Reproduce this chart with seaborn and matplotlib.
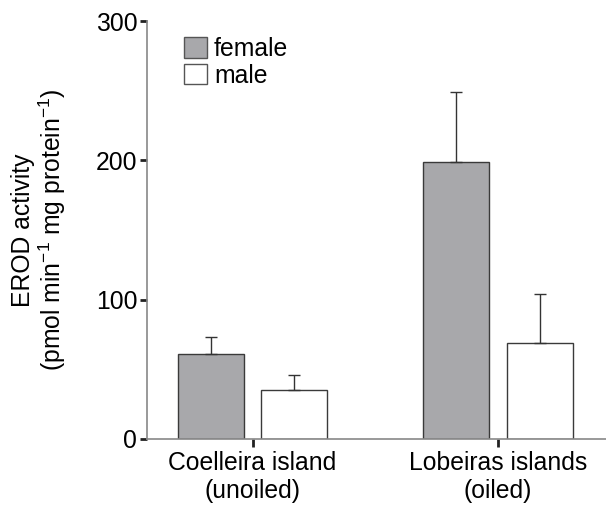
import numpy as np
import pandas as pd
from matplotlib import pyplot as plt
import seaborn as sns

# values
sites = ["Coelleira island\n(unoiled)", "Lobeiras islands\n(oiled)"]
sexes = ["female", "male"]
female_mean = [61, 199]
male_mean = [35, 69]
female_err = [12, 50]
male_err = [11, 35]

df = pd.DataFrame({
    "site": sites * 2,
    "sex": ["female"] * 2 + ["male"] * 2,
    "erod": female_mean + male_mean,
    "err": female_err + male_err,
})

sns.set_style("white")
plt.rcParams["font.family"] = ["Liberation Sans", "DejaVu Sans"]
plt.rcParams["mathtext.fontset"] = "custom"
plt.rcParams["mathtext.rm"] = "Liberation Sans"
plt.rcParams["mathtext.it"] = "Liberation Sans:italic"
plt.rcParams["text.color"] = "black"
plt.rcParams["axes.labelcolor"] = "black"
plt.rcParams["xtick.color"] = "black"
plt.rcParams["ytick.color"] = "black"

FS = 17.8

fig = plt.figure(figsize=(6.06, 5.05), dpi=100)
ax = fig.add_axes([0.2426, 0.1307, 0.7574, 0.8277])

palette = {"female": "#a7a8ab", "male": "#ffffff"}
sns.barplot(data=df, x="site", y="erod", hue="sex", hue_order=sexes,
            palette=palette, width=0.68, gap=0.21, errorbar=None,
            edgecolor="#3a3a3a", linewidth=1.0, ax=ax)

# upper-only error bars at the bar centres
for bars, sex in zip(ax.containers, sexes):
    sub = df[df["sex"] == sex]
    xs = [b.get_x() + b.get_width() / 2 for b in bars]
    ax.errorbar(xs, sub["erod"], yerr=[np.zeros(len(sub)), sub["err"]],
                fmt="none", ecolor="#333333", elinewidth=1.0,
                capsize=4, capthick=1.0, zorder=1)

ax.set_ylim(0, 300)
ax.set_xlim(-0.43, 1.44)
ax.set_yticks([0, 100, 200, 300])
ax.set_xlabel("")
ax.set_ylabel("EROD activity\n(pmol min$^{-1}$ mg protein$^{-1}$)",
              fontsize=FS, labelpad=20, linespacing=1.05)
ax.tick_params(axis="both", labelsize=FS, direction="out", length=5,
               width=2, color="#222222", pad=2, bottom=True, left=True)
ax.tick_params(axis="x", length=6, pad=3)

for s in ["top", "right"]:
    ax.spines[s].set_visible(False)
for s in ["left", "bottom"]:
    ax.spines[s].set_color("#888888")
    ax.spines[s].set_linewidth(1.2)

leg = ax.legend(loc="upper left", bbox_to_anchor=(0.06, 0.985), frameon=False,
                fontsize=FS, handlelength=0.9, handleheight=0.9,
                handletextpad=0.3, labelspacing=0.1, borderaxespad=0)
for h in leg.legend_handles:
    h.set_edgecolor("#555555")

fig.savefig("out.png", dpi=100)
